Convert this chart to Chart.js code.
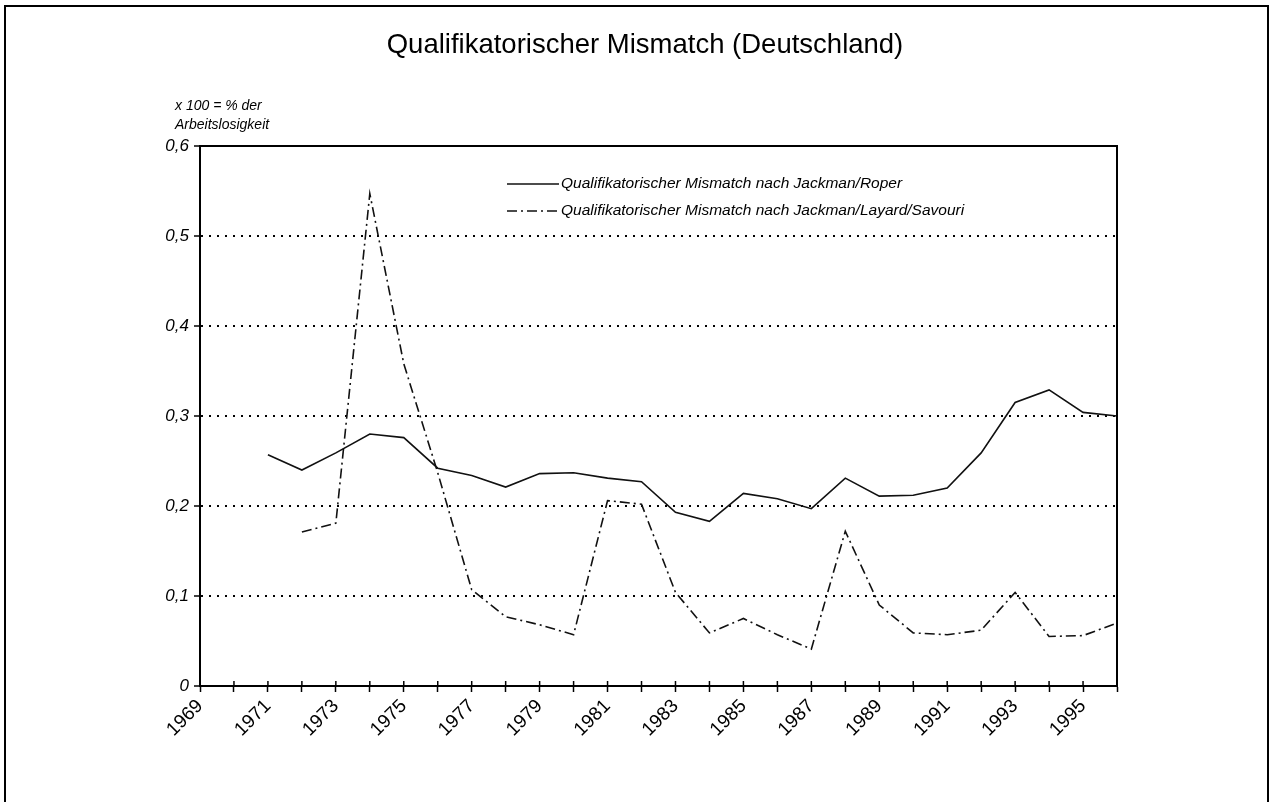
<!DOCTYPE html>
<html>
<head>
<meta charset="utf-8">
<script src="https://cdn.jsdelivr.net/npm/chart.js@4/dist/chart.umd.min.js"></script>
<style>
	body { margin: 0; background: #fff; }
	#rahmen { position: absolute; left: 4px; top: 5px; width: 1261px; height: 805px; border: 2px solid #000; border-bottom: none; }
	#box { position: absolute; left: 0; top: 0; width: 1272px; height: 802px; }
</style>
</head>
<body>
<div id="rahmen"></div>
<div id="box"><canvas id="graph"></canvas></div>
<script>
// Jahre (Kategorien)
const jahre = ["1969","1970","1971","1972","1973","1974","1975","1976","1977","1978","1979","1980","1981","1982","1983","1984","1985","1986","1987","1988","1989","1990","1991","1992","1993","1994","1995","1996"];
// Jackman/Roper
const roper = [null,null,0.257,0.240,0.259,0.280,0.276,0.242,0.234,0.221,0.236,0.237,0.231,0.227,0.193,0.183,0.214,0.208,0.197,0.231,0.211,0.212,0.220,0.259,0.315,0.329,0.304,0.300];
// Jackman/Layard/Savouri
const layard = [null,null,null,0.171,0.181,0.547,0.358,0.237,0.107,0.077,0.068,0.057,0.206,0.202,0.104,0.059,0.075,0.057,0.041,0.172,0.090,0.059,0.057,0.062,0.104,0.055,0.056,0.070];
const yTicks = [0, 0.1, 0.2, 0.3, 0.4, 0.5, 0.6];
const titel = "Qualifikatorischer Mismatch (Deutschland)";
const achsenText = ["x 100 = % der", "Arbeitslosigkeit"];
const labelRoper = "Qualifikatorischer Mismatch nach Jackman/Roper";
const labelLayard = "Qualifikatorischer Mismatch nach Jackman/Layard/Savouri";

const schrift = "'Liberation Sans', Arial, sans-serif";

// titel, achsenbeschriftung, legende, rahmen
const extras = {
	id: "extras",
	afterDraw(chart) {
		const ctx = chart.ctx;
		const a = chart.chartArea;
		ctx.save();
		ctx.fillStyle = "#000";
		ctx.font = "27.5px " + schrift;
		ctx.textAlign = "center";
		ctx.textBaseline = "middle";
		ctx.fillText(titel, 645, 45);

		ctx.font = "italic 14px " + schrift;
		ctx.textAlign = "left";
		ctx.fillText(achsenText[0], 175, 106);
		ctx.fillText(achsenText[1], 175, 125);

		// rahmen der zeichenfläche
		ctx.strokeStyle = "#000";
		ctx.lineWidth = 2;
		ctx.beginPath();
		ctx.moveTo(a.left, a.top);
		ctx.lineTo(a.right, a.top);
		ctx.lineTo(a.right, a.bottom);
		ctx.stroke();

		// ticks der x-achse nach innen verlängern
		const xs = chart.scales.x;
		ctx.lineWidth = 1.5;
		xs.ticks.forEach((t, i) => {
			const px = xs.getPixelForTick(i);
			ctx.beginPath();
			ctx.moveTo(px, a.bottom);
			ctx.lineTo(px, a.bottom - 5);
			ctx.stroke();
		});

		// legende
		ctx.font = "italic 15.5px " + schrift;
		chart.data.datasets.forEach((ds, i) => {
			const y = 184 + i * 27;
			ctx.strokeStyle = ds.borderColor;
			ctx.lineWidth = ds.borderWidth;
			ctx.setLineDash(ds.borderDash || []);
			ctx.beginPath();
			ctx.moveTo(507, y);
			ctx.lineTo(559, y);
			ctx.stroke();
			ctx.setLineDash([]);
			ctx.fillText(ds.label, 561, y);
		});
		ctx.restore();
	},
};

new Chart(document.querySelector("#graph"), {
	type: "line",
	data: {
		labels: jahre,
		datasets: [
			{
				label: labelRoper,
				data: roper,
				borderColor: "#111",
				borderWidth: 1.6,
				pointRadius: 0,
				fill: false,
				tension: 0,
			},
			{
				label: labelLayard,
				data: layard,
				borderColor: "#111",
				borderWidth: 1.6,
				borderDash: [10, 4, 2, 4],
				pointRadius: 0,
				fill: false,
				tension: 0,
			},
		],
	},
	options: {
		responsive: true,
		maintainAspectRatio: false,
		animation: false,
		layout: { padding: { top: 146, right: 155, left: 0, bottom: 0 } },
		plugins: {
			legend: { display: false },
			title: { display: false },
			tooltip: { enabled: false },
		},
		scales: {
			x: {
				offset: false,
				afterFit: (scale) => { scale.height = 116; },
				grid: {
					drawOnChartArea: false,
					drawTicks: true,
					tickLength: 6,
					color: "#000",
					tickColor: "#000",
					tickWidth: 1.5,
				},
				border: { display: true, color: "#000", width: 2 },
				ticks: {
					autoSkip: false,
					maxRotation: 45,
					minRotation: 45,
					padding: 3,
					color: "#000",
					font: { family: schrift, size: 19 },
					callback: (v, i) => (Number(jahre[i]) % 2 === 1 ? jahre[i] : ""),
				},
			},
			y: {
				min: 0,
				max: 0.6,
				afterFit: (scale) => { scale.width = 200; },
				afterBuildTicks: (scale) => { scale.ticks = yTicks.map((v) => ({ value: v })); },
				grid: {
					color: "#000",
					lineWidth: 2,
					drawTicks: true,
					tickLength: 6,
					tickColor: "#000",
					tickWidth: 1.5,
					tickBorderDash: [],
				},
				border: {
					display: true,
					color: "#000",
					width: 2,
					dash: (ctx) => (ctx.tick && (ctx.tick.value === 0 || ctx.tick.value === 0.6) ? [] : [2, 6]),
				},
				ticks: {
					padding: 5,
					color: "#000",
					font: { family: schrift, size: 17, style: "italic" },
					callback: (v) => (v === 0 ? "0" : v.toFixed(1).replace(".", ",")),
				},
			},
		},
	},
	plugins: [extras],
});
</script>
</body>
</html>
